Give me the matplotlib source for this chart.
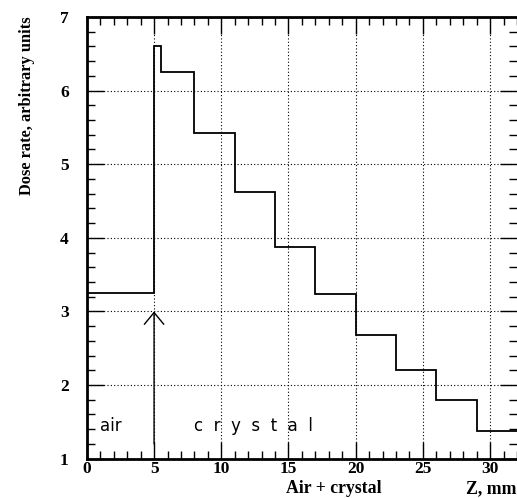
import numpy as np
import matplotlib
matplotlib.use("Agg")
import matplotlib.pyplot as plt
from matplotlib.ticker import MultipleLocator

# step edges along Z (mm) and dose rate in each bin
z_edges = [0, 5, 5.5, 8, 11, 14, 17, 20, 23, 26, 29, 32]
dose = [3.25, 6.6, 6.25, 5.43, 4.62, 3.88, 3.24, 2.68, 2.2, 1.8, 1.37]

x_ticks = [0, 5, 10, 15, 20, 25, 30]
y_ticks = [1, 2, 3, 4, 5, 6, 7]

serif_bold = dict(family="Liberation Serif", weight="bold")

fig = plt.figure(figsize=(5.17, 4.98), dpi=100)
ax = fig.add_axes([0.168, 0.079, 0.832, 0.887])

ax.stairs(dose, z_edges, color="black", lw=1.3, baseline=None)

# arrow marking the air / crystal boundary
ax.annotate("", xy=(5, 3.0), xytext=(5, 1.2),
            arrowprops=dict(arrowstyle="->,head_length=0.85,head_width=0.7",
                            color="black", lw=1.0, shrinkA=0, shrinkB=0))

ax.text(1.0, 1.45, "air", fontsize=12, family="DejaVu Sans", va="center")
ax.text(8.0, 1.45, "c  r  y  s  t  a  l", fontsize=12, family="DejaVu Sans", va="center")

ax.set_xlim(0, 32)
ax.set_ylim(1, 7)
ax.set_xticks(x_ticks)
ax.set_yticks(y_ticks)
ax.xaxis.set_minor_locator(MultipleLocator(1))
ax.yaxis.set_minor_locator(MultipleLocator(0.2))
ax.tick_params(which="both", direction="in", top=True, right=True, color="black")
ax.tick_params(which="major", length=12, width=1.0)
ax.tick_params(which="minor", length=6, width=1.0)
tick_font = matplotlib.font_manager.FontProperties(size=12.5, **serif_bold)
for lab in ax.get_xticklabels() + ax.get_yticklabels():
    lab.set_fontproperties(tick_font)
ax.tick_params(axis="x", pad=2)
ax.tick_params(axis="y", pad=13)

ax.grid(True, which="major", color="black", lw=0.8, linestyle=(0, (1, 2)))

for side in ["left", "bottom", "top"]:
    ax.spines[side].set_linewidth(2)
ax.spines["right"].set_visible(False)

fig.text(0.052, 0.968, "Dose rate, arbitrary units", rotation=90, ha="center", va="top",
         fontsize=11.8, **serif_bold)
fig.text(0.646, 0.002, "Air + crystal", ha="center", va="bottom", fontsize=12.8, **serif_bold)
fig.text(0.999, 0.002, "Z, mm", ha="right", va="bottom", fontsize=12.8, **serif_bold)

fig.savefig("out.png", dpi=100)
